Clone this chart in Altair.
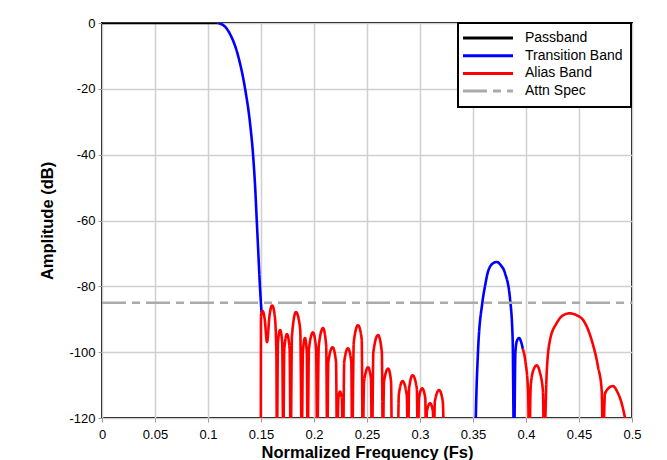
import altair as alt
import pandas as pd

# ---- data ----
series_names = ["Passband", "Transition Band", "Alias Band", "Attn Spec"]
series_colors = ["#000000", "#0000ff", "#ff0000", "#aaaaaa"]

pass_f = [0.0, 0.109]
pass_db = [0.0, 0.0]

trans1_f = [0.109, 0.115, 0.121, 0.128, 0.135, 0.1395, 0.1425, 0.1445, 0.146, 0.1475, 0.149, 0.1505]
trans1_db = [0.0, -0.8, -3.5, -9.5, -20, -30, -40, -50, -60, -70, -80, -88]

trans2_f = [0.3520, 0.3530, 0.3547, 0.3588, 0.3613, 0.3642, 0.3690, 0.3724, 0.3760, 0.3802, 0.3850, 0.3874, 0.3887,
            0.3900, 0.3915, 0.3934, 0.3955, 0.3970]
trans2_db = [-130, -115, -100, -85, -80, -75.5, -73, -72.6, -73.5, -76, -84, -96, -130,
             -100, -96.5, -95.7, -97, -99]

alias1_f = [0.1498, 0.1500, 0.1515, 0.1535, 0.1557, 0.1580, 0.1605, 0.1630, 0.1645, 0.1650,
            0.1660, 0.1680, 0.1700, 0.1710,
            0.1720, 0.1745, 0.1770, 0.1780,
            0.1792, 0.1830, 0.1870, 0.1885,
            0.1895, 0.1915, 0.1932, 0.1940,
            0.1952, 0.1990, 0.2020, 0.2030,
            0.2045, 0.2085, 0.2115, 0.2125,
            0.2135, 0.2175, 0.2208, 0.2217,
            0.2230, 0.2245, 0.2262, 0.2274,
            0.2285, 0.2320, 0.2352, 0.2360,
            0.2375, 0.2415, 0.2450, 0.2460,
            0.2472, 0.2510, 0.2537, 0.2547,
            0.2560, 0.2604, 0.2640, 0.2650,
            0.2660, 0.2700, 0.2727, 0.2736,
            0.2790, 0.2800, 0.2835, 0.2875, 0.2887,
            0.2897, 0.2930, 0.2970, 0.2980,
            0.2990, 0.3020, 0.3050, 0.3057,
            0.3065, 0.3095, 0.3122, 0.3130,
            0.3140, 0.3180, 0.3215, 0.3226]
alias1_db = [-130, -89, -87.5, -90, -97, -89, -85.8, -89, -100, -130,
             -97, -93.3, -97, -130,
             -99, -94.5, -99, -130,
             -95, -87.8, -93, -130,
             -100, -95.7, -100, -130,
             -99, -94, -99, -130,
             -98, -92.7, -98, -130,
             -103, -98.5, -103, -130,
             -114, -112, -114, -130,
             -103, -98.8, -103, -130,
             -97, -91.8, -96, -130,
             -109, -104.6, -108, -130,
             -100, -94.8, -100, -130,
             -109, -105, -109, -130,
             -130, -113, -108.8, -113, -130,
             -111, -107, -111, -130,
             -114, -111, -114, -130,
             -118, -115.5, -118, -130,
             -115, -111.5, -115, -130]

alias2_f = [0.3970, 0.3995, 0.4020, 0.4030,
            0.4045, 0.4075, 0.4100, 0.4130, 0.4160, 0.4170,
            0.4195, 0.4226, 0.4289, 0.4350, 0.4415, 0.4480, 0.4540, 0.4620, 0.4680, 0.4714, 0.4726,
            0.4745, 0.4818, 0.4868, 0.4903, 0.4934, 0.5000]
alias2_db = [-99, -103, -112, -130,
             -110, -105, -104, -106, -112, -130,
             -106.5, -96.4, -91.2, -88.8, -88.2, -88.8, -90.3, -96.4, -104.5, -111.5, -130,
             -112.5, -110.3, -112.5, -115.6, -120, -135]

spec_f = [0.0, 0.5]
spec_db = [-85, -85]

x_ticks = [0, 0.05, 0.1, 0.15, 0.2, 0.25, 0.3, 0.35, 0.4, 0.45, 0.5]
y_ticks = [0, -20, -40, -60, -80, -100, -120]

# ---- build table ----
rows = []
def add(fs, dbs, name, seg):
    for i, (f, d) in enumerate(zip(fs, dbs)):
        rows.append({"f": f, "db": d, "series": name, "seg": seg, "i": i})

add(pass_f, pass_db, "Passband", "p")
add(trans1_f, trans1_db, "Transition Band", "t1")
add(trans2_f, trans2_db, "Transition Band", "t2")
add(alias1_f, alias1_db, "Alias Band", "a1")
add(alias2_f, alias2_db, "Alias Band", "a2")
curves = pd.DataFrame(rows)

rows = []
add(spec_f, spec_db, "Attn Spec", "s")
spec = pd.DataFrame(rows)

x_enc = alt.X("f:Q", scale=alt.Scale(domain=[0, 0.5], nice=False),
              axis=alt.Axis(values=x_ticks, format=".2~f", title="Normalized Frequency (Fs)"))
y_enc = alt.Y("db:Q", scale=alt.Scale(domain=[-120, 0], nice=False),
              axis=alt.Axis(values=y_ticks, labelExpr="datum.value + ''", title="Amplitude (dB)"))
color_enc = alt.Color("series:N", scale=alt.Scale(domain=series_names, range=series_colors),
                      legend=alt.Legend(title=None, orient="none", legendX=356, legendY=0,
                                        symbolType="M-2,0H8", symbolSize=100, symbolStrokeWidth=3,
                                        labelFontSize=14, labelFont="Liberation Sans", labelColor="black",
                                        labelOffset=45, padding=8, rowPadding=3.7,
                                        fillColor="white", strokeColor="black"))
dash_enc = alt.StrokeDash("series:N", scale=alt.Scale(domain=series_names,
                                                      range=[[1, 0], [1, 0], [1, 0], [24, 6, 8, 6]]),
                          legend=None)

curve_layer = alt.Chart(curves).mark_line(interpolate="monotone", strokeWidth=2.6, clip=True).encode(
    x=x_enc, y=y_enc, color=color_enc, strokeDash=dash_enc, detail="seg:N", order="i:Q")
spec_layer = alt.Chart(spec).mark_line(strokeWidth=2.6, clip=True).encode(
    x=x_enc, y=y_enc, color=color_enc, strokeDash=dash_enc, detail="seg:N", order="i:Q")

chart = alt.layer(curve_layer, spec_layer).properties(
    width=530, height=395,
    autosize=alt.AutoSizeParams(type="none"),
    padding={"left": 94, "top": 15, "right": 27, "bottom": 44},
    background="white",
).configure_view(stroke="black", strokeWidth=2).configure_axis(
    labelFont="Liberation Sans", labelFontSize=13, labelColor="black", labelFlush=False,
    titleFont="Liberation Sans", titleFontSize=16.5, titleFontWeight="bold", titleColor="black",
    grid=True, gridColor="#d0d0d0", gridWidth=1.5, domain=False,
    tickColor="#999999", tickSize=4,
).configure_axisY(titlePadding=13, labelPadding=3).configure_axisX(titlePadding=3, labelPadding=6
).configure_legend(strokeWidth=2)

chart.save("out.html", embed_options={"renderer": "svg", "actions": False})
